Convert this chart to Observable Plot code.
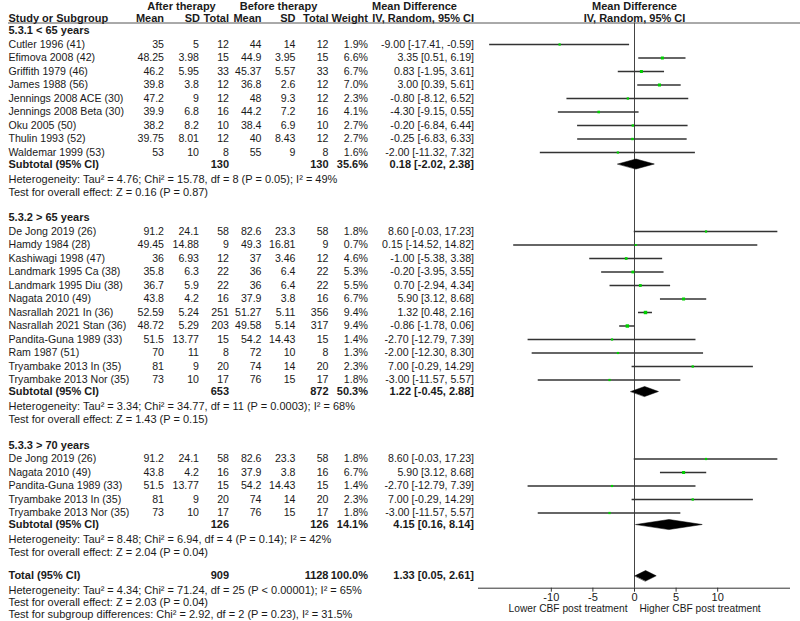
<!DOCTYPE html>
<html><head><meta charset="utf-8">
<script src="https://cdn.jsdelivr.net/npm/d3@7"></script>
<script src="https://cdn.jsdelivr.net/npm/@observablehq/plot@0.6"></script>
<style>
html,body{margin:0;padding:0;background:#fff;}
g[aria-label="notes"] text { word-spacing: 1.6px; }
</style>
</head><body>
<div id="chart"></div>
<script>
// ---------- DATA ----------
const subgroupTitles = ["5.3.1 < 65 years", "5.3.2 > 65 years", "5.3.3 > 70 years"];

const g1Study = ["Cutler 1996 (41)", "Efimova 2008 (42)", "Griffith 1979 (46)", "James 1988 (56)", "Jennings 2008 ACE (30)", "Jennings 2008 Beta (30)", "Oku 2005 (50)", "Thulin 1993 (52)", "Waldemar 1999 (53)"];
const g1AfterMean = [35, 48.25, 46.2, 39.8, 47.2, 39.9, 38.2, 39.75, 53];
const g1AfterSD = [5, 3.98, 5.95, 3.8, 9, 6.8, 8.2, 8.01, 10];
const g1AfterN = [12, 15, 33, 12, 12, 16, 10, 12, 8];
const g1BeforeMean = [44, 44.9, 45.37, 36.8, 48, 44.2, 38.4, 40, 55];
const g1BeforeSD = [14, 3.95, 5.57, 2.6, 9.3, 7.2, 6.9, 8.43, 9];
const g1BeforeN = [12, 15, 33, 12, 12, 16, 10, 12, 8];
const g1Weight = [1.9, 6.6, 6.7, 7.0, 2.3, 4.1, 2.7, 2.7, 1.6];
const g1MD = [-9.00, 3.35, 0.83, 3.00, -0.80, -4.30, -0.20, -0.25, -2.00];
const g1Lo = [-17.41, 0.51, -1.95, 0.39, -8.12, -9.15, -6.84, -6.83, -11.32];
const g1Hi = [-0.59, 6.19, 3.61, 5.61, 6.52, 0.55, 6.44, 6.33, 7.32];

const g2Study = ["De Jong 2019 (26)", "Hamdy 1984 (28)", "Kashiwagi 1998 (47)", "Landmark 1995 Ca (38)", "Landmark 1995 Diu (38)", "Nagata 2010 (49)", "Nasrallah 2021 In (36)", "Nasrallah 2021 Stan (36)", "Pandita-Guna 1989 (33)", "Ram 1987 (51)", "Tryambake 2013 In (35)", "Tryambake 2013 Nor (35)"];
const g2AfterMean = [91.2, 49.45, 36, 35.8, 36.7, 43.8, 52.59, 48.72, 51.5, 70, 81, 73];
const g2AfterSD = [24.1, 14.88, 6.93, 6.3, 5.9, 4.2, 5.24, 5.29, 13.77, 11, 9, 10];
const g2AfterN = [58, 9, 12, 22, 22, 16, 251, 203, 15, 8, 20, 17];
const g2BeforeMean = [82.6, 49.3, 37, 36, 36, 37.9, 51.27, 49.58, 54.2, 72, 74, 76];
const g2BeforeSD = [23.3, 16.81, 3.46, 6.4, 6.4, 3.8, 5.11, 5.14, 14.43, 10, 14, 15];
const g2BeforeN = [58, 9, 12, 22, 22, 16, 356, 317, 15, 8, 20, 17];
const g2Weight = [1.8, 0.7, 4.6, 5.3, 5.5, 6.7, 9.4, 9.4, 1.4, 1.3, 2.3, 1.8];
const g2MD = [8.60, 0.15, -1.00, -0.20, 0.70, 5.90, 1.32, -0.86, -2.70, -2.00, 7.00, -3.00];
const g2Lo = [-0.03, -14.52, -5.38, -3.95, -2.94, 3.12, 0.48, -1.78, -12.79, -12.30, -0.29, -11.57];
const g2Hi = [17.23, 14.82, 3.38, 3.55, 4.34, 8.68, 2.16, 0.06, 7.39, 8.30, 14.29, 5.57];

const g3Study = ["De Jong 2019 (26)", "Nagata 2010 (49)", "Pandita-Guna 1989 (33)", "Tryambake 2013 In (35)", "Tryambake 2013 Nor (35)"];
const g3AfterMean = [91.2, 43.8, 51.5, 81, 73];
const g3AfterSD = [24.1, 4.2, 13.77, 9, 10];
const g3AfterN = [58, 16, 15, 20, 17];
const g3BeforeMean = [82.6, 37.9, 54.2, 74, 76];
const g3BeforeSD = [23.3, 3.8, 14.43, 14, 15];
const g3BeforeN = [58, 16, 15, 20, 17];
const g3Weight = [1.8, 6.7, 1.4, 2.3, 1.8];
const g3MD = [8.60, 5.90, -2.70, 7.00, -3.00];
const g3Lo = [-0.03, 3.12, -12.79, -0.29, -11.57];
const g3Hi = [17.23, 8.68, 7.39, 14.29, 5.57];

const subAfterN = [130, 653, 126];
const subBeforeN = [130, 872, 126];
const subWeight = [35.6, 50.3, 14.1];
const subMD = [0.18, 1.22, 4.15];
const subLo = [-2.02, -0.45, 0.16];
const subHi = [2.38, 2.88, 8.14];
const subHetero = [
  "Heterogeneity: Tau² = 4.76; Chi² = 15.78, df = 8 (P = 0.05); I² = 49%",
  "Heterogeneity: Tau² = 3.34; Chi² = 34.77, df = 11 (P = 0.0003); I² = 68%",
  "Heterogeneity: Tau² = 8.48; Chi² = 6.94, df = 4 (P = 0.14); I² = 42%"
];
const subEffect = [
  "Test for overall effect: Z = 0.16 (P = 0.87)",
  "Test for overall effect: Z = 1.43 (P = 0.15)",
  "Test for overall effect: Z = 2.04 (P = 0.04)"
];

const totalAfterN = 909, totalBeforeN = 1128, totalWeight = 100.0;
const totalMD = 1.33, totalLo = 0.05, totalHi = 2.61;
const totalNotes = [
  "Heterogeneity: Tau² = 4.34; Chi² = 71.24, df = 25 (P < 0.00001); I² = 65%",
  "Test for overall effect: Z = 2.03 (P = 0.04)",
  "Test for subgroup differences: Chi² = 2.92, df = 2 (P = 0.23), I² = 31.5%"
];

const xTicks = [-10, -5, 0, 5, 10];
const xTickLabels = ["-10", "-5", "0", "5", "10"];
const favoursLeft = "Lower CBF post treatment";
const favoursRight = "Higher CBF post treatment";

// ---------- LAYOUT ----------
const groups = [
  {study: g1Study, aM: g1AfterMean, aS: g1AfterSD, aN: g1AfterN, bM: g1BeforeMean, bS: g1BeforeSD, bN: g1BeforeN, w: g1Weight, md: g1MD, lo: g1Lo, hi: g1Hi},
  {study: g2Study, aM: g2AfterMean, aS: g2AfterSD, aN: g2AfterN, bM: g2BeforeMean, bS: g2BeforeSD, bN: g2BeforeN, w: g2Weight, md: g2MD, lo: g2Lo, hi: g2Hi},
  {study: g3Study, aM: g3AfterMean, aS: g3AfterSD, aN: g3AfterN, bM: g3BeforeMean, bS: g3BeforeSD, bN: g3BeforeN, w: g3Weight, md: g3MD, lo: g3Lo, hi: g3Hi}
];
const fmt2 = v => v.toFixed(2);
const ciText = (m, l, h) => `${fmt2(m)} [${fmt2(l)}, ${fmt2(h)}]`;

const cells = [];   // {col, y, text, bold, note}
const studiesOut = [];
const diamonds = [];
let y = 30;
const pitch = 13.5;
groups.forEach((g, gi) => {
  if (gi > 0) y += 25.5;
  cells.push({col: "study", y, text: subgroupTitles[gi], bold: true});
  y += 14;
  g.study.forEach((s, i) => {
    if (i > 0) y += pitch;
    cells.push({col: "study", y, text: s});
    cells.push({col: "aM", y, text: String(g.aM[i])});
    cells.push({col: "aS", y, text: String(g.aS[i])});
    cells.push({col: "aN", y, text: String(g.aN[i])});
    cells.push({col: "bM", y, text: String(g.bM[i])});
    cells.push({col: "bS", y, text: String(g.bS[i])});
    cells.push({col: "bN", y, text: String(g.bN[i])});
    cells.push({col: "w", y, text: g.w[i].toFixed(1) + "%"});
    cells.push({col: "ci", y, text: ciText(g.md[i], g.lo[i], g.hi[i])});
    studiesOut.push({y, md: g.md[i], lo: g.lo[i], hi: g.hi[i], w: g.w[i]});
  });
  y += 11.5;
  cells.push({col: "study", y, text: "Subtotal (95% CI)", bold: true});
  cells.push({col: "aN", y, text: String(subAfterN[gi]), bold: true});
  cells.push({col: "bN", y, text: String(subBeforeN[gi]), bold: true});
  cells.push({col: "w", y, text: subWeight[gi].toFixed(1) + "%", bold: true});
  cells.push({col: "ci", y, text: ciText(subMD[gi], subLo[gi], subHi[gi]), bold: true});
  diamonds.push({id: gi, x: subLo[gi], y}, {id: gi, x: subMD[gi], y: y - 5}, {id: gi, x: subHi[gi], y}, {id: gi, x: subMD[gi], y: y + 5});
  y += 15.3;
  cells.push({col: "note", y, text: subHetero[gi]});
  y += 12.7;
  cells.push({col: "note", y, text: subEffect[gi]});
});
y += 23.3;
cells.push({col: "study", y, text: "Total (95% CI)", bold: true});
cells.push({col: "aN", y, text: String(totalAfterN), bold: true});
cells.push({col: "bN", y, text: String(totalBeforeN), bold: true});
cells.push({col: "w", y, text: totalWeight.toFixed(1) + "%", bold: true});
cells.push({col: "ci", y, text: ciText(totalMD, totalLo, totalHi), bold: true});
diamonds.push({id: 9, x: totalLo, y}, {id: 9, x: totalMD, y: y - 5.3}, {id: 9, x: totalHi, y}, {id: 9, x: totalMD, y: y + 5.3});
y += 14.4;
totalNotes.forEach((t, i) => { if (i > 0) y += 12; cells.push({col: "note", y, text: t}); });

const colX = {study: 8, note: 8, aM: 163.5, aS: 198.5, aN: 228.5, bM: 261, bS: 295, bN: 328, w: 367.5, ci: 473.5};
const headerY1 = 5.5, headerY2 = 17.5, ruleY = 22.5, axisY = 587.7;

const headCells = [
  {x: 181, y: headerY1, text: "After therapy", anchor: "middle"},
  {x: 278, y: headerY1, text: "Before therapy", anchor: "middle"},
  {x: 414, y: headerY1, text: "Mean Difference", anchor: "middle"},
  {x: colX.study, y: headerY2, text: "Study or Subgroup", anchor: "start"},
  {x: colX.aM, y: headerY2, text: "Mean", anchor: "end"},
  {x: colX.aS + 1, y: headerY2, text: "SD", anchor: "end"},
  {x: colX.aN, y: headerY2, text: "Total", anchor: "end"},
  {x: colX.bM, y: headerY2, text: "Mean", anchor: "end"},
  {x: colX.bS, y: headerY2, text: "SD", anchor: "end"},
  {x: colX.bN, y: headerY2, text: "Total", anchor: "end"},
  {x: colX.w, y: headerY2, text: "Weight", anchor: "end"},
  {x: colX.ci, y: headerY2, text: "IV, Random, 95% CI", anchor: "end"}
];

const textColor = "#1a1a1a";
const marks = [];
marks.push(Plot.ruleY([ruleY], {stroke: "#555", strokeWidth: 1, insetLeft: 8}));
headCells.forEach(h => marks.push(Plot.text([h], {y: "y", text: "text", frameAnchor: "left", dx: h.x, textAnchor: h.anchor, fontWeight: "bold", fontSize: 11, fill: textColor})));
marks.push(Plot.text(["Mean Difference", "IV, Random, 95% CI"], {x: 0, y: (d, i) => i === 0 ? headerY1 : headerY2, text: d => d, fontWeight: "bold", fontSize: 11, fill: textColor}));
Object.keys(colX).forEach(col => {
  [false, true].forEach(b => {
    const data = cells.filter(c => c.col === col && !!c.bold === b);
    if (!data.length) return;
    marks.push(Plot.text(data, {
      y: "y", text: "text", frameAnchor: "left", dx: colX[col],
      textAnchor: (col === "study" || col === "note") ? "start" : "end",
      fontWeight: b ? "bold" : "normal",
      fontSize: b ? 11 : (col === "note" ? 11 : 10.6),
      ariaLabel: col === "note" ? "notes" : "cells",
      fill: textColor
    }));
  });
});
marks.push(Plot.ruleX([0], {y1: ruleY, y2: axisY, stroke: "#444", strokeWidth: 1}));
marks.push(Plot.ruleY(studiesOut, {y: "y", x1: "lo", x2: "hi", stroke: "#333", strokeWidth: 1.5}));
marks.push(Plot.dot(studiesOut, {x: "md", y: "y", r: "w", symbol: "square", fill: "#00d000", stroke: "none"}));
marks.push(Plot.line(diamonds, {x: "x", y: "y", z: "id", curve: "linear-closed", fill: "black", stroke: "black", strokeWidth: 0.5}));
marks.push(Plot.ruleY([axisY], {x1: -18.75, x2: 18.75, stroke: "#333", strokeWidth: 1}));
marks.push(Plot.ruleX(xTicks, {x: d => d, y1: axisY, y2: axisY + 4, stroke: "#333", strokeWidth: 1}));
marks.push(Plot.text(xTicks, {x: d => d, y: axisY + 9.5, text: (d, i) => xTickLabels[i], fontSize: 11, fill: textColor}));
marks.push(Plot.text([favoursLeft], {x: 0, y: axisY + 20.5, text: d => d, textAnchor: "end", dx: -7, fontSize: 10.2, fill: textColor}));
marks.push(Plot.text([favoursRight], {x: 0, y: axisY + 20.5, text: d => d, textAnchor: "start", dx: 5, fontSize: 10.2, fill: textColor}));

const chart = Plot.plot({
  width: 800,
  height: 621,
  margin: 0,
  x: {domain: [-18.75, 18.75], range: [478, 790], axis: null},
  y: {domain: [0, 621], range: [0, 621], axis: null},
  r: {type: "linear", domain: [0, 10], range: [1.1, 2.0]},
  style: {fontFamily: "'Liberation Sans', Arial, sans-serif", fontSize: "11px", background: "#fff", overflow: "visible"},
  marks
});
document.getElementById("chart").appendChild(chart);
</script>
</body></html>
